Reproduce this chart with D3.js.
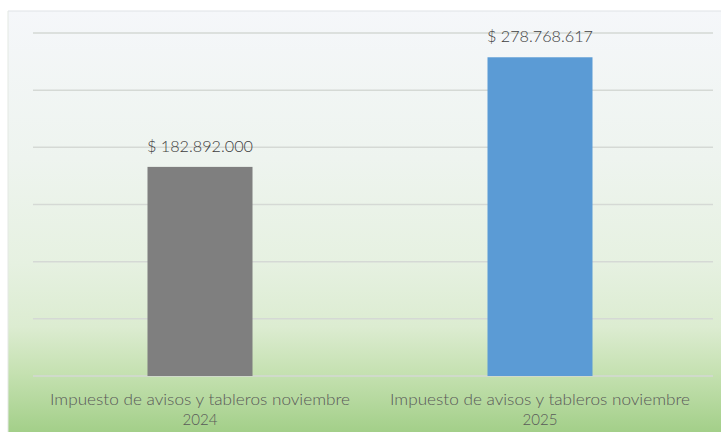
<!DOCTYPE html>
<html><head><meta charset="utf-8">
<script src="https://cdn.jsdelivr.net/npm/d3@7"></script>
<style>html,body{margin:0;padding:0;background:#fff;}svg{display:block;}</style>
</head><body>
<svg id="c" width="721" height="432"></svg>
<script>
const categories = ["Impuesto de avisos y tableros noviembre 2024", "Impuesto de avisos y tableros noviembre 2025"];
const catLines = [["Impuesto de avisos y tableros noviembre", "2024"], ["Impuesto de avisos y tableros noviembre", "2025"]];
const values = [182892000, 278768617];
const barColors = ["#7f7f7f", "#5b9bd5"];
const yTicks = [0, 50e6, 100e6, 150e6, 200e6, 250e6, 300e6];

const svg = d3.select("#c");
const defs = svg.append("defs");
const g = defs.append("linearGradient").attr("id","bg").attr("x1",0).attr("y1",0).attr("x2",0).attr("y2",1);
[[0,"#f5f7fa"],[0.35,"#eef4ef"],[0.6,"#e6f1e1"],[0.75,"#dcecd1"],[0.86,"#c5e1b1"],[1,"#a3cf89"]].forEach(([o,c])=>g.append("stop").attr("offset",o).attr("stop-color",c));

svg.append("rect").attr("x",8).attr("y",11).attr("width",713).attr("height",421).attr("fill","url(#bg)");
svg.append("line").attr("x1",8).attr("x2",721).attr("y1",11).attr("y2",11).attr("stroke","#dfe3e6").attr("stroke-width",1);
svg.append("line").attr("x1",8).attr("x2",8).attr("y1",11).attr("y2",432).attr("stroke","#e3e8e3").attr("stroke-width",1);

const x = d3.scaleBand().domain(categories).range([30, 710]).padding(0);
const y = d3.scaleLinear().domain([0, 300e6]).range([376, 33]);

svg.append("g").selectAll("line").data(yTicks).join("line")
  .attr("x1",33).attr("x2",713)
  .attr("y1",d=>y(d)).attr("y2",d=>y(d))
  .attr("stroke","#d5d9d5").attr("stroke-width",1.5);

const bw = 105;
svg.append("g").selectAll("rect").data(values).join("rect")
  .attr("x",(d,i)=>x(categories[i]) + x.bandwidth()/2 - bw/2)
  .attr("width",bw)
  .attr("y",d=>y(d))
  .attr("height",d=>y(0)-y(d))
  .attr("fill",(d,i)=>barColors[i]);

const fmt = v => "$ " + d3.format(",")(v).replace(/,/g,".");
svg.append("g").selectAll("text").data(values).join("text")
  .attr("x",(d,i)=>x(categories[i]) + x.bandwidth()/2)
  .attr("y",d=>y(d)-15)
  .attr("text-anchor","middle")
  .attr("font-family","Lato, 'Open Sans', sans-serif")
  .attr("font-weight",300)
  .attr("font-size",15)
  .attr("fill","#404040")
  .attr("textLength",106).attr("lengthAdjust","spacingAndGlyphs")
  .text(d=>fmt(d));

const lab = svg.append("g").selectAll("g").data(catLines).join("g");
lab.each(function(lines,i){
  const cx = x(categories[i]) + x.bandwidth()/2;
  d3.select(this).selectAll("text").data(lines).join("text")
    .attr("x",cx)
    .attr("y",(d,j)=>405 + j*20)
    .attr("text-anchor","middle")
    .attr("font-family","Lato, 'Open Sans', sans-serif")
    .attr("font-weight",300)
    .attr("font-size",15)
    .attr("fill","#595959")
    .attr("textLength",(d,j)=> j===0 ? 300 : 35).attr("lengthAdjust","spacingAndGlyphs")
    .text(d=>d);
});
</script>
</body></html>
